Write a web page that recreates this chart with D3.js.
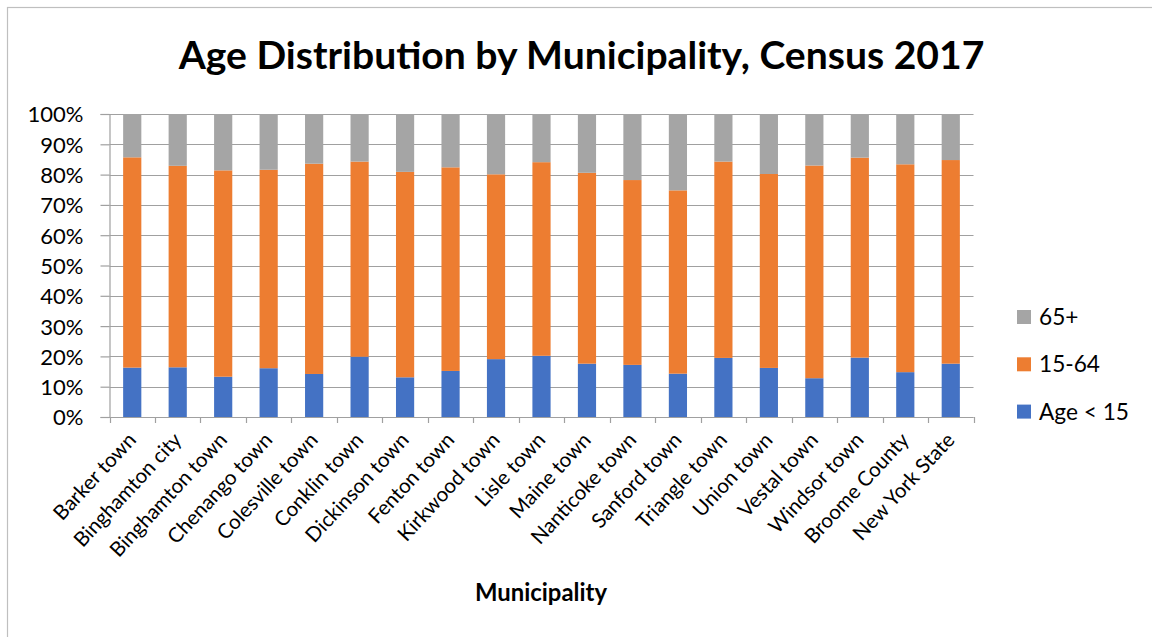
<!DOCTYPE html>
<html><head><meta charset="utf-8">
<script src="https://cdn.jsdelivr.net/npm/d3@7"></script>
<style>
html,body{margin:0;padding:0;background:#fff;}
svg{display:block;font-family:Lato,"Liberation Sans",sans-serif;}
</style></head>
<body><svg id="c" width="1152" height="637"></svg>
<script>
const categories = ["Barker town","Binghamton city","Binghamton town","Chenango town","Colesville town","Conklin town","Dickinson town","Fenton town","Kirkwood town","Lisle town","Maine town","Nanticoke town","Sanford town","Triangle town","Union town","Vestal town","Windsor town","Broome County","New York State"];
const under15 = [16.3,16.4,13.3,16.1,14.2,19.9,13.1,15.2,19.1,20.2,17.6,17.2,14.3,19.5,16.2,12.8,19.6,14.8,17.6];
const age15to64 = [69.4,66.5,68.1,65.5,69.4,64.4,67.8,67.2,61.0,63.9,63.0,61.0,60.5,64.8,64.0,70.2,66.0,68.6,67.2];
const age65plus = [14.3,17.1,18.6,18.4,16.4,15.7,19.1,17.6,19.9,15.9,19.4,21.8,25.2,15.7,19.8,17.0,14.4,16.6,15.2];
const seriesNames = ["Age < 15","15-64","65+"];
const seriesColors = ["#4472c4","#ed7d31","#a5a5a5"];
const yTicks = [0,10,20,30,40,50,60,70,80,90,100];

const svg = d3.select("#c");
const m = {left:109.5, right:973.5, top:114, bottom:417};

function fit(sel, target){
  const n = sel.node();
  const fs = parseFloat(sel.attr("font-size"));
  const w = n.getComputedTextLength();
  if (w > 0) sel.attr("font-size", (fs*target/w).toFixed(2));
  return sel;
}

// outer border
svg.append("rect").attr("x",7.5).attr("y",7.5).attr("width",1160).attr("height",640)
  .attr("fill","none").attr("stroke","#bfbfbf").attr("stroke-width",1.2);

const rows = categories.map((c,i)=>({cat:c, "Age < 15":under15[i], "15-64":age15to64[i], "65+":age65plus[i]}));
const stack = d3.stack().keys(seriesNames).offset(d3.stackOffsetExpand)(rows);

const x = d3.scaleBand().domain(categories).range([m.left,m.right]).paddingInner(0.6).paddingOuter(0.3);
const y = d3.scaleLinear().domain([0,1]).range([m.bottom,m.top]);
const step = x.step();

// gridlines
svg.append("g").selectAll("line").data(yTicks).join("line")
  .attr("x1",m.left).attr("x2",m.right)
  .attr("y1",d=>Math.round(y(d/100))+0.5).attr("y2",d=>Math.round(y(d/100))+0.5)
  .attr("stroke","#a0a0a0").attr("stroke-width",1.2);

// bars
stack.forEach((s,si)=>{
  svg.append("g").attr("fill",seriesColors[si]).selectAll("rect").data(s).join("rect")
    .attr("x",d=>x(d.data.cat)).attr("width",x.bandwidth())
    .attr("y",d=>y(d[1])).attr("height",d=>y(d[0])-y(d[1]));
});

// y axis
const yAxis = d3.axisLeft(y).tickValues(yTicks.map(d=>d/100)).tickFormat(d=>Math.round(d*100)+"%").tickSize(9).tickPadding(17);
const gy = svg.append("g").attr("transform",`translate(${m.left},0)`).call(yAxis);
gy.attr("font-family",null).attr("font-size",null);
gy.select(".domain").attr("stroke","#a0a0a0").attr("stroke-width",1.2);
gy.selectAll(".tick line").attr("stroke","#a0a0a0").attr("stroke-width",1.2);
const yt = gy.selectAll(".tick text").attr("font-size",20).attr("fill","#000").attr("dy","0.36em");
const widest = gy.selectAll(".tick text").filter(d=>d===1);
fit(widest, 56);
yt.attr("font-size", widest.attr("font-size"));

// x axis
svg.append("line").attr("x1",m.left).attr("x2",m.right).attr("y1",m.bottom+0.5).attr("y2",m.bottom+0.5).attr("stroke","#a0a0a0").attr("stroke-width",1.2);
const bounds = d3.range(categories.length+1).map(i=>m.left+i*step);
svg.append("g").selectAll("line").data(bounds).join("line")
  .attr("x1",d=>Math.round(d)+0.5).attr("x2",d=>Math.round(d)+0.5)
  .attr("y1",m.bottom).attr("y2",m.bottom+6).attr("stroke","#a0a0a0").attr("stroke-width",1.2);

svg.append("g").selectAll("text").data(categories).join("text")
  .attr("transform",d=>`translate(${x(d)+x.bandwidth()/2+5},${m.bottom+24}) rotate(-47)`)
  .attr("text-anchor","end").attr("font-size",20.5).attr("fill","#000")
  .text(d=>d);

// title
const title = svg.append("text").attr("x",581.5).attr("y",69).attr("text-anchor","middle")
  .attr("font-size",38).attr("font-weight","bold").attr("fill","#000")
  .text("Age Distribution by Municipality, Census 2017");
fit(title, 806);

// axis title
const at = svg.append("text").attr("x",541).attr("y",601).attr("text-anchor","middle")
  .attr("font-size",20).attr("font-weight","bold").attr("fill","#000").text("Municipality");
fit(at, 132);

// legend
const legendOrder = [2,1,0];
const lg = svg.append("g");
let legendFs = null;
legendOrder.forEach((si,k)=>{
  const cy = 317 + k*47.3;
  lg.append("rect").attr("x",1017).attr("y",cy-7).attr("width",14).attr("height",14).attr("fill",seriesColors[si]);
  const t = lg.append("text").attr("x",1039).attr("y",cy).attr("dy","0.36em").attr("font-size",20).attr("fill","#000").text(seriesNames[si]);
  if (si===0) { fit(t, 90); legendFs = t.attr("font-size"); }
});
lg.selectAll("text").attr("font-size", legendFs);
</script></body></html>
